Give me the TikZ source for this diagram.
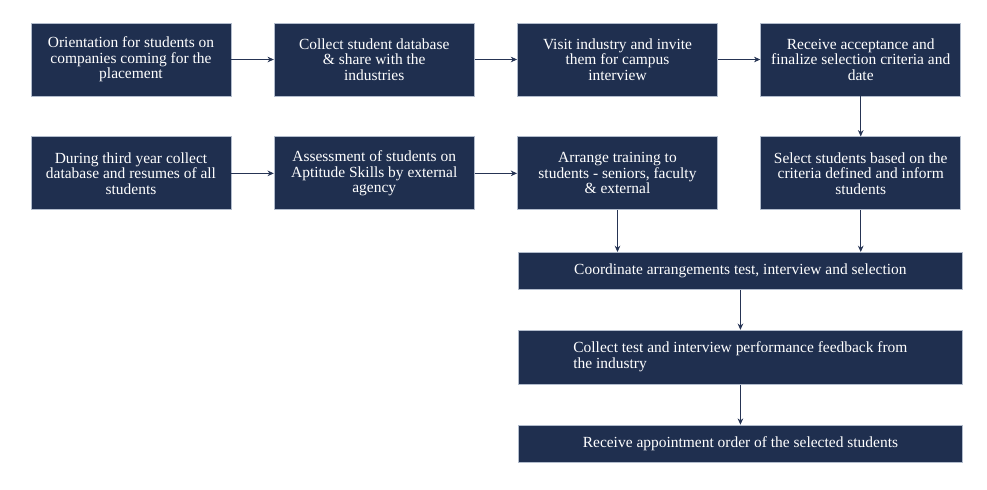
\documentclass[tikz,border=0pt]{standalone}
\usepackage{fontspec}
\setmainfont{Liberation Serif}
\usetikzlibrary{arrows.meta,positioning}
\definecolor{cNavy}{RGB}{31,47,79}
\definecolor{cEdge}{RGB}{178,188,204}
\definecolor{cArrow}{RGB}{38,52,84}
\tikzset{
  basebox/.style={rectangle,draw=cEdge,line width=0.6pt,fill=cNavy,text=white,
                  align=center,font=\fontsize{11}{11}\selectfont,inner sep=2pt},
  navynode/.style={basebox,minimum width=5cm,minimum height=1.825cm},
  widenode/.style={basebox,minimum width=11.1cm,minimum height=0.925cm},
  arr/.style={-{Stealth[length=4.5pt,width=4pt]},line width=0.6pt,color=cArrow}
}
\begin{document}
\begin{tikzpicture}[node distance=1.06cm]
  \useasboundingbox (0,0) rectangle (24.675,-12.225);
  % first row
  \node[navynode] (orient) at (3.275,-1.4875)
      {Orientation for students on\\companies coming for the\\placement};
  \node[navynode, right=of orient] (collect)
      {Collect student database\\\& share with the\\industries};
  \node[navynode, right=of collect] (visit)
      {Visit industry and invite\\them for campus\\interview};
  \node[navynode, right=of visit] (accept)
      {Receive acceptance and\\finalize selection criteria and\\date};
  % second row
  \node[navynode, below=1.0cm of orient] (third)
      {During third year collect\\database and resumes of all\\students};
  \node[navynode, right=of third] (assess)
      {Assessment of students on\\Aptitude Skills by external\\agency};
  \node[navynode, right=of assess] (train)
      {Arrange training to\\students - seniors, faculty\\\& external};
  \node[navynode, right=of train] (select)
      {Select students based on the\\criteria defined and inform\\students};
  % bottom column
  \node[widenode, anchor=north west] (coord) at (12.95,-6.3)
      {Coordinate arrangements test, interview and selection};
  \node[widenode, minimum height=1.35cm, below=1.0cm of coord] (feedback)
      {\begin{tabular}{@{}l@{}}Collect test and interview performance feedback from\\the industry\end{tabular}};
  \node[widenode, below=1.0cm of feedback] (appoint)
      {Receive appointment order of the selected students};

  \draw[arr] (orient) -- (collect);
  \draw[arr] (collect) -- (visit);
  \draw[arr] (visit) -- (accept);
  \draw[arr] (third) -- (assess);
  \draw[arr] (assess) -- (train);
  \draw[arr] (accept) -- (select);
  \draw[arr] (train.south) -- (train.south |- coord.north);
  \draw[arr] (select.south) -- (select.south |- coord.north);
  \draw[arr] (coord) -- (feedback);
  \draw[arr] (feedback) -- (appoint);
\end{tikzpicture}
\end{document}
